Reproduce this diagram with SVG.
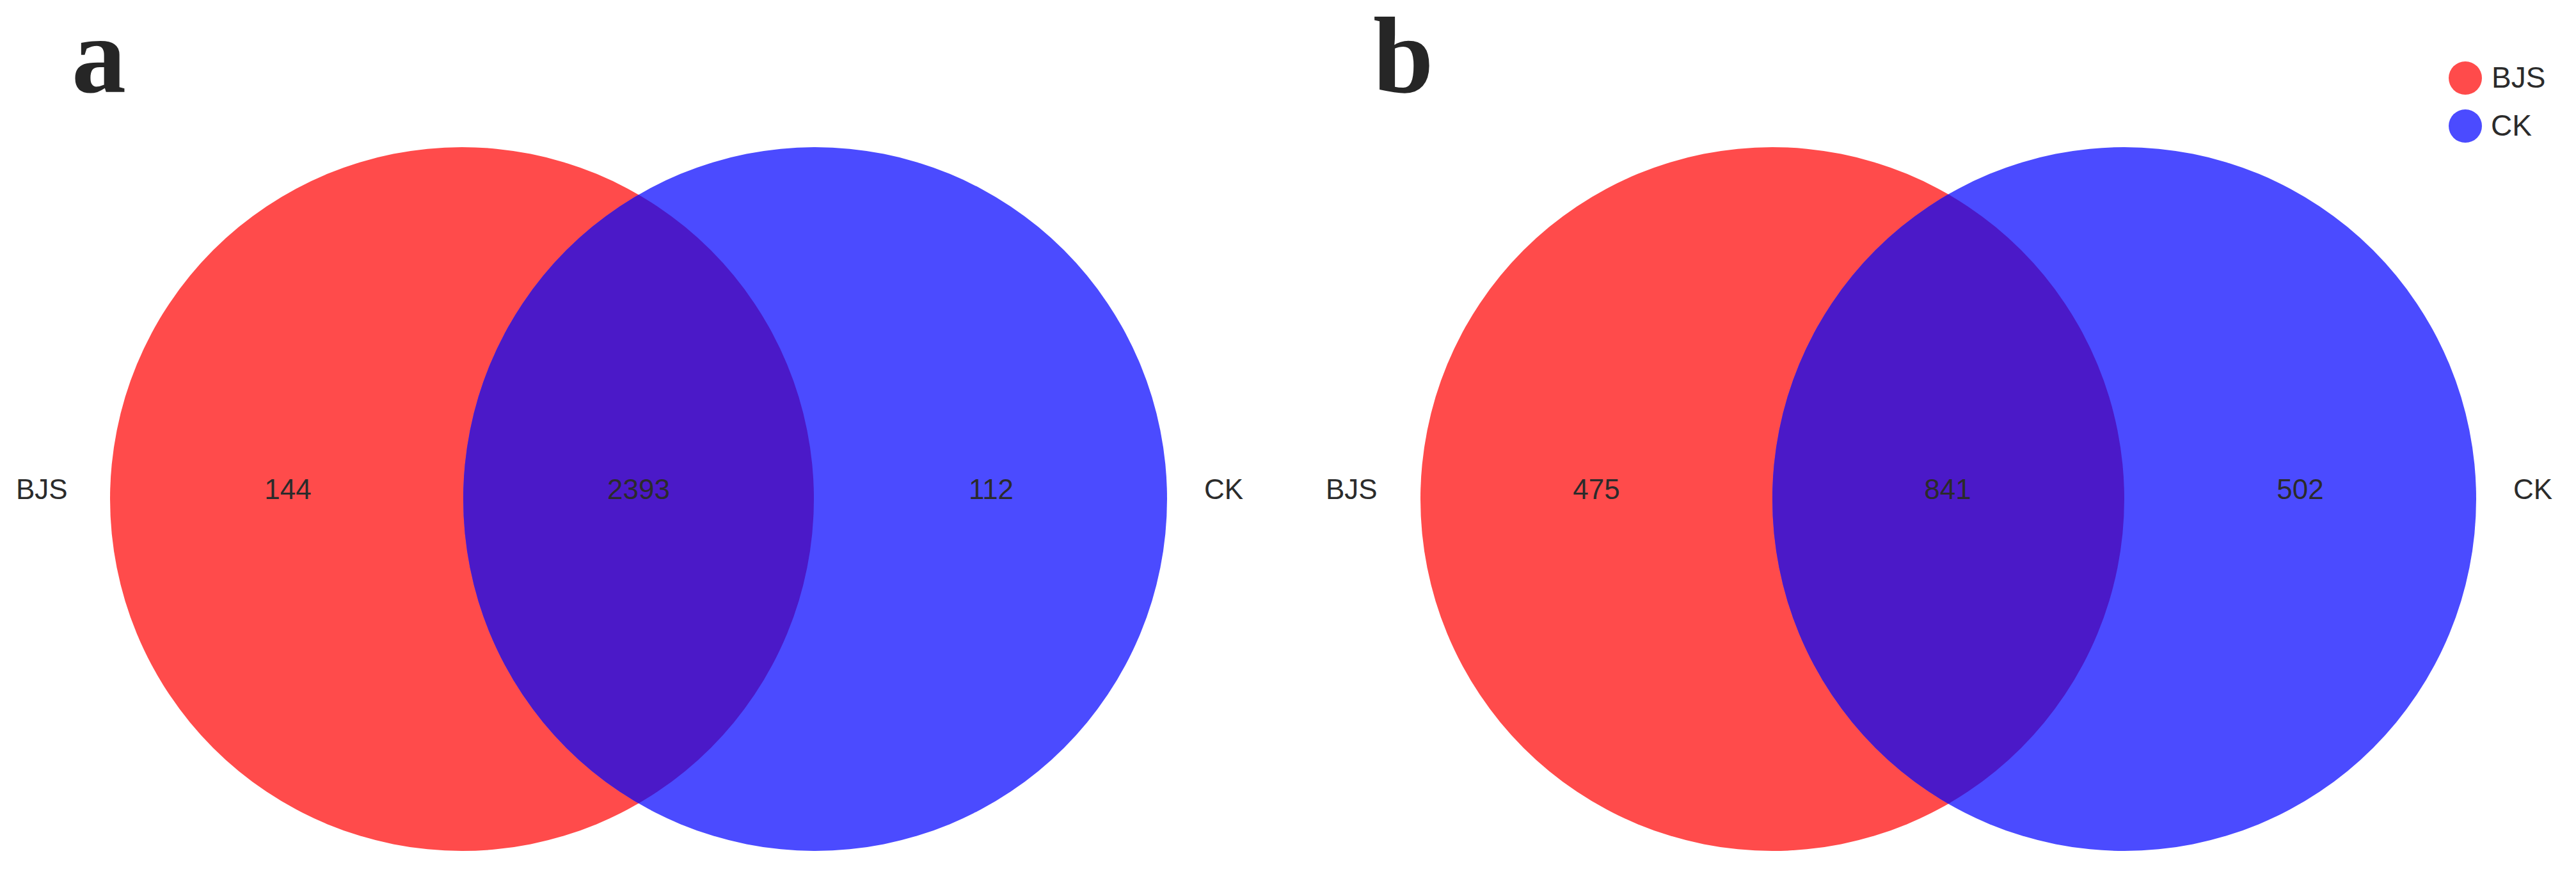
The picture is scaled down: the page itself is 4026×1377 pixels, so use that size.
<svg xmlns="http://www.w3.org/2000/svg" width="4026" height="1377" viewBox="0 0 4026 1377">
<style>
.red{fill:#ff4b4b}
.blue{fill:#4b4bff}
.both{fill:#4b19c8}
.lbl{font-family:"Liberation Sans",Arial,sans-serif;font-size:44px;fill:#2b2b2b}
.num{font-family:"Liberation Sans",Arial,sans-serif;font-size:44px;fill:#2b2b2b;text-anchor:middle}
.panel{font-family:"Liberation Serif","Times New Roman",serif;font-size:170px;font-weight:bold;fill:#262626}
</style>
<defs>
<clipPath id="clipA"><circle cx="722" cy="780" r="550"/></clipPath>
<clipPath id="clipB"><circle cx="2770" cy="780" r="550"/></clipPath>
</defs>
<rect width="4026" height="1377" fill="#ffffff"/>
<text class="panel" x="112" y="144">a</text>
<text class="panel" x="2146" y="144">b</text>
<g id="venn-a">
<g id="a-BJS"><circle class="red" cx="722" cy="780" r="550"/></g>
<g id="a-CK"><circle class="blue" cx="1274" cy="780" r="550"/></g>
<g id="a-overlap"><circle class="both" cx="1274" cy="780" r="550" clip-path="url(#clipA)"/></g>
<text class="lbl" x="25" y="780">BJS</text>
<text class="lbl" x="1882" y="780">CK</text>
<text class="num" x="450" y="780">144</text>
<text class="num" x="998" y="780">2393</text>
<text class="num" x="1549" y="780">112</text>
</g>
<g id="venn-b">
<g id="b-BJS"><circle class="red" cx="2770" cy="780" r="550"/></g>
<g id="b-CK"><circle class="blue" cx="3320" cy="780" r="550"/></g>
<g id="b-overlap"><circle class="both" cx="3320" cy="780" r="550" clip-path="url(#clipB)"/></g>
<text class="lbl" x="2072" y="780">BJS</text>
<text class="lbl" x="3928" y="780">CK</text>
<text class="num" x="2495" y="780">475</text>
<text class="num" x="3044" y="780">841</text>
<text class="num" x="3595" y="780">502</text>
</g>
<g id="legend">
<circle class="red" cx="3853" cy="122" r="26"/>
<text class="lbl" x="3894" y="137" style="font-size:46px">BJS</text>
<circle class="blue" cx="3853" cy="197" r="26"/>
<text class="lbl" x="3893" y="212" style="font-size:46px">CK</text>
</g>
<g id="connectors"/>
</svg>
